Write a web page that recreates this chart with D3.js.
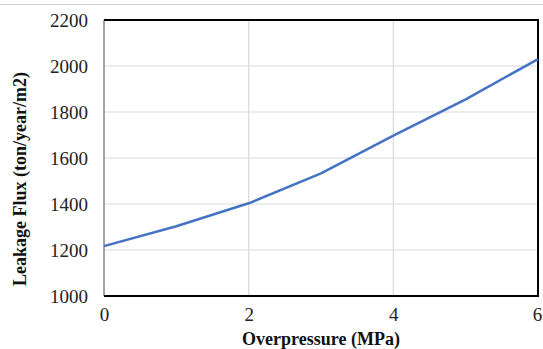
<!DOCTYPE html>
<html>
<head>
<meta charset="utf-8">
<script src="https://cdn.jsdelivr.net/npm/d3@7"></script>
<style>
  html, body { margin: 0; padding: 0; background: #fff; }
  svg { display: block; }
</style>
</head>
<body>
<svg id="chart" width="543" height="349"></svg>
<script>
// values
const pressure = [0, 1, 2, 3, 4, 5, 6];
const leakFlux = [1217, 1303, 1403, 1533, 1697, 1855, 2030];
const xTicks = [0, 2, 4, 6];
const yTicks = [1000, 1200, 1400, 1600, 1800, 2000, 2200];

const svg = d3.select('#chart');
const margin = { top: 20, right: 5, bottom: 53, left: 104 };
const width = 543 - margin.left - margin.right;
const height = 349 - margin.top - margin.bottom;

// thin grey strip at top of the screenshot
svg.append('line')
  .attr('x1', 0).attr('x2', 543)
  .attr('y1', 4.5).attr('y2', 4.5)
  .attr('stroke', '#d0d0d0')
  .attr('stroke-width', 1);

const x = d3.scaleLinear().domain([0, 6]).range([0, width]);
const y = d3.scaleLinear().domain([1000, 2200]).range([height, 0]);

const g = svg.append('g').attr('transform', `translate(${margin.left},${margin.top})`);

// gridlines
g.selectAll('.hgrid')
  .data(yTicks)
  .enter()
  .append('line')
  .attr('x1', 0).attr('x2', width)
  .attr('y1', (d) => y(d)).attr('y2', (d) => y(d))
  .attr('stroke', '#d9d9d9')
  .attr('stroke-width', 1.2);

g.selectAll('.vgrid')
  .data(xTicks)
  .enter()
  .append('line')
  .attr('x1', (d) => x(d)).attr('x2', (d) => x(d))
  .attr('y1', 0).attr('y2', height)
  .attr('stroke', '#d9d9d9')
  .attr('stroke-width', 1.2);

// frame: grey left, black elsewhere
g.append('line')
  .attr('x1', 0).attr('x2', 0).attr('y1', 0).attr('y2', height)
  .attr('stroke', '#8c8c8c').attr('stroke-width', 1.5);
g.append('path')
  .attr('d', `M0,0H${width}V${height}H0`)
  .attr('fill', 'none')
  .attr('stroke', '#000')
  .attr('stroke-width', 2);

// data line
const line = d3.line()
  .x((d, i) => x(pressure[i]))
  .y((d) => y(d));

g.append('path')
  .datum(leakFlux)
  .attr('fill', 'none')
  .attr('stroke', '#4472c4')
  .attr('stroke-width', 2.5)
  .attr('stroke-linejoin', 'round')
  .attr('d', line);

// tick labels
const font = 'Liberation Serif, Times New Roman, serif';

const xAxis = g.append('g')
  .attr('transform', `translate(0,${height})`)
  .call(d3.axisBottom(x).tickValues(xTicks).tickFormat(d3.format('d')).tickSize(0).tickPadding(12));
xAxis.select('.domain').remove();
xAxis.selectAll('text')
  .attr('font-family', font)
  .attr('font-size', 19)
  .attr('fill', '#222');
// keep the last label inside the window
xAxis.selectAll('text').filter((d) => d === 6).attr('dx', -1);

const yAxis = g.append('g')
  .call(d3.axisLeft(y).tickValues(yTicks).tickFormat(d3.format('d')).tickSize(0).tickPadding(16));
yAxis.select('.domain').remove();
yAxis.selectAll('text')
  .attr('font-family', font)
  .attr('font-size', 19)
  .attr('fill', '#222');

// axis titles
svg.append('text')
  .attr('x', margin.left + width / 2)
  .attr('y', 345)
  .attr('text-anchor', 'middle')
  .attr('font-family', font)
  .attr('font-weight', 'bold')
  .attr('font-size', 18)
  .attr('fill', '#111')
  .text('Overpressure (MPa)');

svg.append('text')
  .attr('transform', 'translate(26,179) rotate(-90)')
  .attr('text-anchor', 'middle')
  .attr('font-family', font)
  .attr('font-weight', 'bold')
  .attr('font-size', 18)
  .attr('fill', '#111')
  .text('Leakage Flux (ton/year/m2)');
</script>
</body>
</html>
